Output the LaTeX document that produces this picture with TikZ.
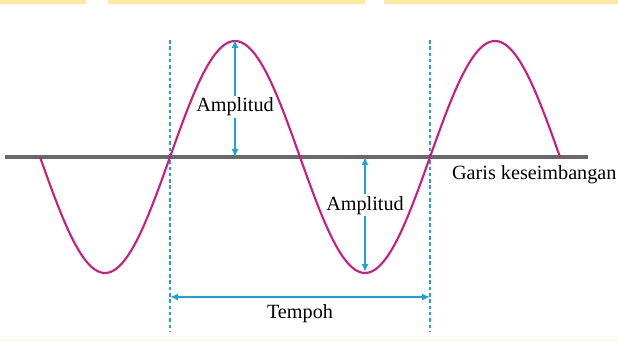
\documentclass[tikz,border=0pt]{standalone}
\usepackage{fontspec}
\setmainfont{Liberation Serif}
\usetikzlibrary{arrows.meta,calc}

\definecolor{wavemag}{RGB}{200,30,130}
\definecolor{arrblue}{RGB}{30,160,220}
\definecolor{linegray}{RGB}{105,105,105}
\definecolor{stripyel}{RGB}{253,234,160}

\begin{document}
\begin{tikzpicture}[
    x=0.02cm, y=-0.02cm,
    wave/.style={draw=wavemag, line width=1.2pt},
    baseline/.style={draw=linegray, line width=2pt},
    guide/.style={draw=arrblue, line width=0.9pt, dash pattern=on 2pt off 1.6pt},
    measure/.style={{Latex[length=1.6mm,width=1.4mm]}-{Latex[length=1.6mm,width=1.4mm]}, draw=arrblue, line width=0.9pt},
    label/.style={font=\fontsize{11.5}{13}\selectfont, inner sep=1pt},
]

\useasboundingbox (0,0) rectangle (618,341);

% ====== Strips ======
\fill[stripyel] (0,0) rectangle (86,4);
\fill[stripyel] (108,0) rectangle (365,4);
\fill[stripyel] (384,0) rectangle (618,4);
\fill[stripyel!60] (0,339.5) rectangle (618,341);

% ====== Points ======
\coordinate (lineL) at (5,157);
\coordinate (lineR) at (588,157);
\coordinate (top1) at (235,40);
\coordinate (mid1) at (235,157);
\coordinate (mid2) at (365,157);
\coordinate (bot2) at (365,272);
\coordinate (dashAt) at (170,40);
\coordinate (dashAb) at (170,331);
\coordinate (dashBt) at (430,40);
\coordinate (dashBb) at (430,331);
\coordinate (perL) at (170,297);
\coordinate (perR) at (430,297);

% ====== Equilibrium line ======
\draw[baseline] (lineL) -- (lineR);

% ====== Guides ======
\draw[guide] (dashAt) -- (dashAb);
\draw[guide] (dashBt) -- (dashBb);

% ====== Wave ======
\draw[wave, domain=40:560, samples=120, smooth] plot (\x, {157+116*sin((\x-40)/130*180)});

% ====== Measures ======
\draw[measure] (top1) -- (mid1) node[pos=0.57, label, fill=white] (amp1) {Amplitud};
\draw[measure] (mid2) -- (bot2) node[pos=0.42, label, fill=white] (amp2) {Amplitud};
\draw[measure] (perL) -- (perR);
\node[label, below=3pt] (tempoh) at ($(perL)!0.5!(perR)$) {Tempoh};

% ====== Labels ======
\node[label, anchor=west] (garis) at (450,175) {Garis keseimbangan};

\end{tikzpicture}
\end{document}
